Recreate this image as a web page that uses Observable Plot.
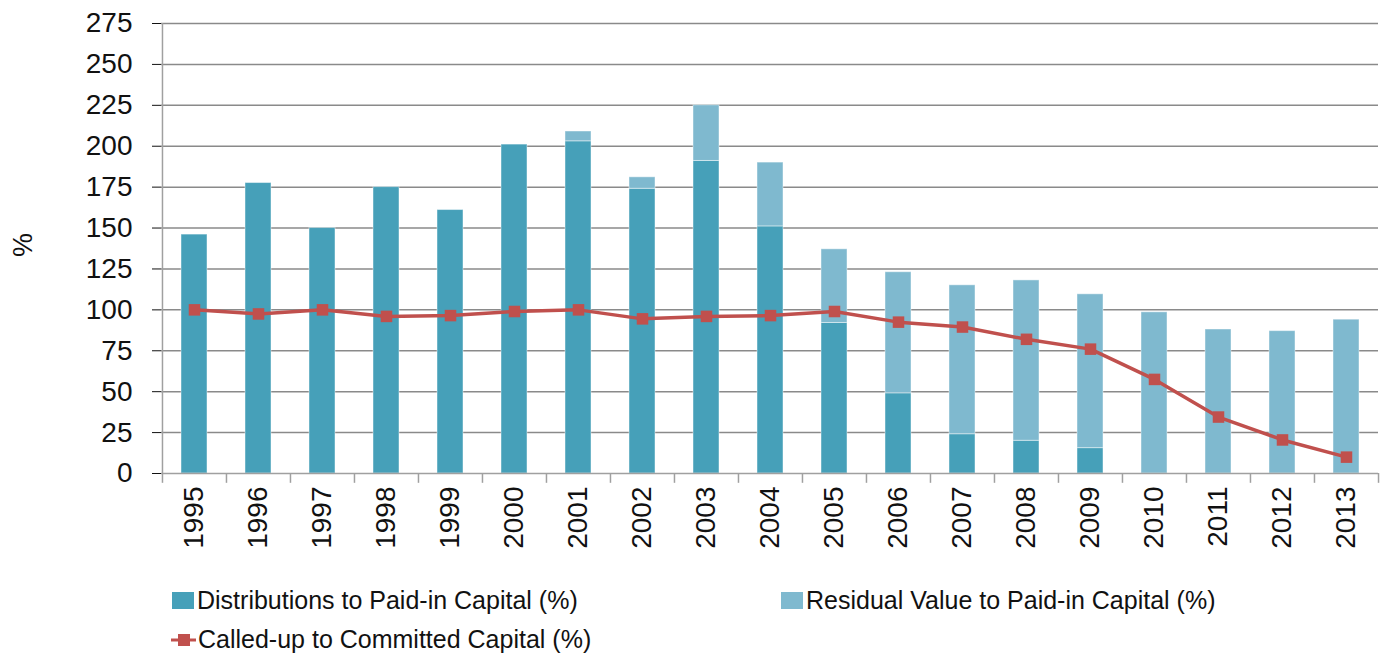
<!DOCTYPE html>
<html>
<head>
<meta charset="utf-8">
<script src="https://cdn.jsdelivr.net/npm/d3@7"></script>
<script src="https://cdn.jsdelivr.net/npm/@observablehq/plot@0.6"></script>
<style>
  html, body { margin: 0; padding: 0; background: #fff; }
  body { width: 1389px; height: 662px; overflow: hidden; font-family: "Liberation Sans", "DejaVu Sans", sans-serif; }
  #legend { position: relative; height: 90px; font-size: 25px; color: #111; }
  .item { position: absolute; display: flex; align-items: center; white-space: nowrap; }
  .sw { width: 22px; height: 17px; margin-right: 3px; }
</style>
</head>
<body>
<div id="chart"></div>
<div id="legend"></div>
<script>
const years = ["1995","1996","1997","1998","1999","2000","2001","2002","2003","2004","2005","2006","2007","2008","2009","2010","2011","2012","2013"];
const distributions = [146, 177.5, 150, 175, 161, 201, 203, 174, 191, 151, 92, 49, 24, 20, 15.5, 0, 0, 0, 0];
const residual = [0, 0, 0, 0, 0, 0, 6, 7, 34, 39, 45, 74, 91, 98, 94, 98.5, 88, 87, 94];
const calledUp = [100, 97.5, 100, 96, 96.5, 99, 100, 94.5, 96, 96.5, 99, 92.5, 89.5, 82, 76, 57.5, 34.5, 20.5, 10];
const yTicks = [0, 25, 50, 75, 100, 125, 150, 175, 200, 225, 250, 275];

const seriesNames = ["Distributions to Paid-in Capital (%)", "Residual Value to Paid-in Capital (%)"];
const lineName = "Called-up to Committed Capital (%)";
const colors = ["#46a0b9", "#7fb9cf"];
const lineColor = "#c0504d";

const barData = [];
years.forEach((y, i) => {
  barData.push({year: y, series: seriesNames[0], value: distributions[i]});
  barData.push({year: y, series: seriesNames[1], value: residual[i]});
});
const lineData = years.map((y, i) => ({year: y, value: calledUp[i]}));

const W = 1389, H = 572;
const mL = 161, mR = 11, mT = 23, mB = 99;
const step = (W - mL - mR) / years.length;

const chart = Plot.plot({
  width: W,
  height: H,
  marginLeft: mL,
  marginRight: mR,
  marginTop: mT,
  marginBottom: mB,
  style: {fontFamily: "'Liberation Sans', 'DejaVu Sans', sans-serif", fontSize: "28px", color: "#111", background: "#fff"},
  x: {domain: years, paddingInner: 0.6, paddingOuter: 0.3, label: null, tickRotate: -90, tickSize: 0, tickPadding: 13},
  y: {domain: [0, 275], ticks: yTicks, label: null, tickSize: 9, tickPadding: 20},
  color: {domain: seriesNames, range: colors},
  marks: [
    Plot.ruleY(yTicks.filter(d => d > 0), {stroke: "#8a8a8a", strokeWidth: 1.5}),
    Plot.barY(barData, Plot.stackY({x: "year", y: "value", fill: "series", order: seriesNames, stroke: "#ffffff", strokeOpacity: 0.45, strokeWidth: 1})),
    Plot.ruleY([0], {stroke: "#a0a0a0", strokeWidth: 1.5}),
    Plot.ruleX([years[0]], {x: d => d, dx: -step / 2, y1: 0, y2: 275, stroke: "#a0a0a0", strokeWidth: 1.5}),
    Plot.ruleX(years, {x: d => d, dx: -step / 2, y1: 0, y2: -6, stroke: "#a0a0a0", strokeWidth: 1.5}),
    Plot.ruleX([years[years.length - 1]], {x: d => d, dx: step / 2, y1: 0, y2: -6, stroke: "#a0a0a0", strokeWidth: 1.5}),
    Plot.line(lineData, {x: "year", y: "value", stroke: lineColor, strokeWidth: 3.5}),
    Plot.dot(lineData, {x: "year", y: "value", symbol: "square", r: 6.5, fill: lineColor, stroke: "none"})
  ]
});
document.getElementById("chart").appendChild(chart);

// y-axis title
const svg = d3.select(chart);
svg.append("text")
  .attr("transform", `translate(32, 245) rotate(-90)`)
  .attr("text-anchor", "middle")
  .attr("font-size", 27)
  .attr("fill", "#111")
  .text("%");

// legend
const legend = document.getElementById("legend");
function addItem(x, y, swatchHtml, label) {
  const d = document.createElement("div");
  d.className = "item";
  d.style.left = x + "px";
  d.style.top = y + "px";
  d.innerHTML = swatchHtml + `<span>${label}</span>`;
  legend.appendChild(d);
}
addItem(172, 14, `<div class="sw" style="background:${colors[0]}"></div>`, seriesNames[0]);
addItem(781, 14, `<div class="sw" style="background:${colors[1]}"></div>`, seriesNames[1]);
addItem(171, 53, `<svg width="25" height="20" style="margin-right:2px"><line x1="0" y1="10" x2="25" y2="10" stroke="${lineColor}" stroke-width="3"/><rect x="7" y="4" width="12" height="12" fill="${lineColor}"/></svg>`, lineName);
</script>
</body>
</html>
